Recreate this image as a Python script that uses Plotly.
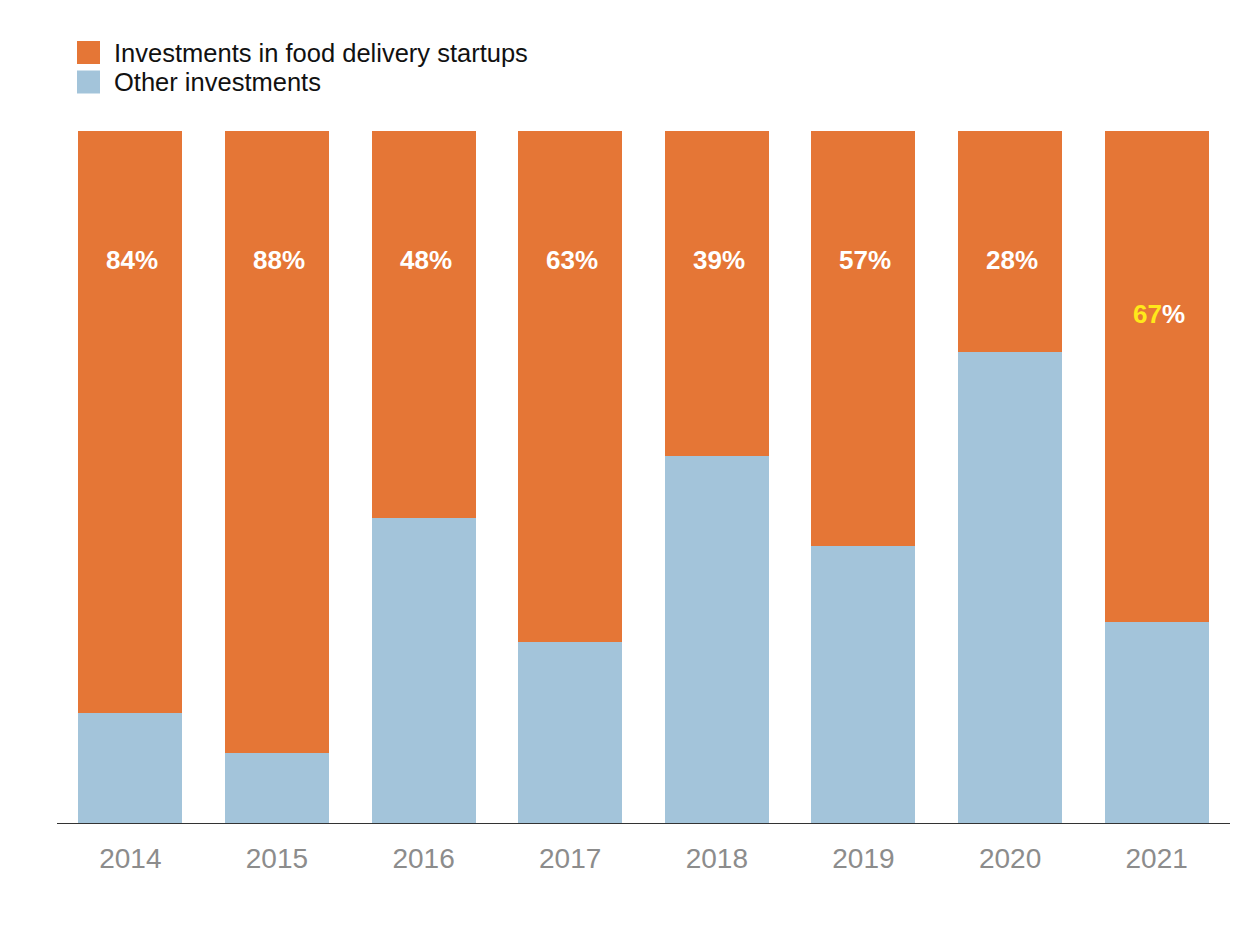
import plotly.graph_objects as go

years = ["2014", "2015", "2016", "2017", "2018", "2019", "2020", "2021"]
# bar heights as drawn (percent of total)
other_share = [15.9, 10.1, 44.1, 26.2, 53.0, 40.0, 68.1, 29.0]
food_share = [round(100 - v, 1) for v in other_share]
# printed labels
label_values = ["84", "88", "48", "63", "39", "57", "28", "67"]
label_y = [81.4, 81.4, 81.4, 81.4, 81.4, 81.4, 81.4, 73.6]

ORANGE = "#E57636"
BLUE = "#A3C4DA"
FONT = "Liberation Sans, Arial, Helvetica, sans-serif"

fig = go.Figure()
fig.add_trace(go.Bar(x=years, y=other_share, marker_color=BLUE, marker_line_width=0,
                     name="Other investments", hoverinfo="skip"))
fig.add_trace(go.Bar(x=years, y=food_share, marker_color=ORANGE, marker_line_width=0,
                     name="Investments in food delivery startups", hoverinfo="skip"))

for i, (yr, lv, ly) in enumerate(zip(years, label_values, label_y)):
    if yr == "2021":
        txt = f"<span style='color:#FFE81A'>{lv}</span>%"
    else:
        txt = f"{lv}%"
    fig.add_annotation(x=i, y=ly, text=f"<b>{txt}</b>", showarrow=False,
                       font=dict(family=FONT, size=26, color="white"),
                       xshift=2)

# manual legend (pixel positions relative to plot area: left 57, bottom 823, h 692, w 1173)
legend_items = [("Investments in food delivery startups", ORANGE, 52.5),
                ("Other investments", BLUE, 82)]
for name, col, ypx in legend_items:
    fig.add_shape(type="rect", xref="paper", yref="paper",
                  x0=(77 - 57) / 1173, x1=(100 - 57) / 1173,
                  y0=(823 - (ypx + 11.5)) / 692, y1=(823 - (ypx - 11.5)) / 692,
                  fillcolor=col, line_width=0)
    fig.add_annotation(xref="paper", yref="paper", x=(112 - 57) / 1173,
                       y=(823 - ypx) / 692, xanchor="left", yanchor="middle",
                       text=name, showarrow=False,
                       font=dict(family=FONT, size=25.5, color="#111111"))

fig.update_layout(
    barmode="stack",
    bargap=0.29,
    width=1250, height=925,
    margin=dict(l=49, r=28, t=123, b=110),
    plot_bgcolor="white", paper_bgcolor="white",
    showlegend=False,
    font=dict(family=FONT),
)
fig.update_xaxes(type="category", range=[-0.5, 7.5], showline=True, linecolor="#333333",
                 linewidth=1, ticks="",
                 tickfont=dict(family=FONT, size=28, color="#8c8c8c"),
                 ticklabelstandoff=10, showgrid=False)
fig.update_yaxes(range=[0, 100], visible=False, showgrid=False)

fig.write_html("out.html")
